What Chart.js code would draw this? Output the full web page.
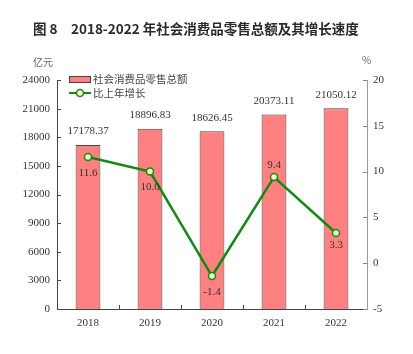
<!DOCTYPE html>
<html>
<head>
<meta charset="utf-8">
<script src="https://cdn.jsdelivr.net/npm/chart.js@4"></script>
<style>
  html, body { margin: 0; padding: 0; background: #fff; }
  #wrap { width: 413px; height: 354px; }
</style>
</head>
<body>
<div id="wrap"><canvas id="retailChart" width="413" height="354"></canvas></div>
<script>
"use strict";

const years = ["2018", "2019", "2020", "2021", "2022"];
const retailSales = [17178.37, 18896.83, 18626.45, 20373.11, 21050.12];
const growthRate = [11.6, 10.0, -1.4, 9.4, 3.3];
const salesTicks = [0, 3000, 6000, 9000, 12000, 15000, 18000, 21000, 24000];
const rateTicks = [-5, 0, 5, 10, 15, 20];

const figureNo = "图 8";
const titleText = "2018-2022 年社会消费品零售总额及其增长速度";
const salesLabel = "社会消费品零售总额";
const growthLabel = "比上年增长";

const serif = "'Liberation Serif', 'DejaVu Serif', serif";
const cjk = "'Noto Sans CJK SC', 'Noto Sans', sans-serif";

// title, units, legend, value labels and inward tick marks
const extrasPlugin = {
    id: "extras",
    afterDraw: (chart) => {
        const ctx = chart.ctx;
        const area = chart.chartArea;
        ctx.save();

        ctx.fillStyle = "#2a2a2a";
        ctx.font = "bold 13.5px " + cjk;
        ctx.textAlign = "left";
        ctx.textBaseline = "middle";
        ctx.fillText(figureNo, 33, 29);
        ctx.fillText(titleText, 71, 29);

        ctx.fillStyle = "#666";
        ctx.font = "10px " + cjk;
        ctx.fillText("亿元", 33, 62);
        ctx.fillText("%", 362, 60);

        // tick marks pointing into the plot
        ctx.lineWidth = 1;
        const left = chart.scales.y;
        ctx.strokeStyle = "#444";
        left.ticks.forEach((t) => {
            const y = Math.round(left.getPixelForValue(t.value)) + 0.5;
            ctx.beginPath();
            ctx.moveTo(area.left, y);
            ctx.lineTo(area.left + 4, y);
            ctx.stroke();
        });
        const right = chart.scales.y1;
        ctx.strokeStyle = "#888";
        right.ticks.forEach((t) => {
            const y = Math.round(right.getPixelForValue(t.value)) + 0.5;
            ctx.beginPath();
            ctx.moveTo(area.right - 4, y);
            ctx.lineTo(area.right, y);
            ctx.stroke();
        });
        const xs = chart.scales.x;
        ctx.strokeStyle = "#444";
        for (let i = 1; i < years.length; i++) {
            const x = Math.round((xs.getPixelForValue(i - 1) + xs.getPixelForValue(i)) / 2) + 0.5;
            ctx.beginPath();
            ctx.moveTo(x, area.bottom);
            ctx.lineTo(x, area.bottom - 4);
            ctx.stroke();
        }

        // value labels
        ctx.font = "11px " + serif;
        ctx.fillStyle = "#333";
        ctx.textAlign = "center";
        const bars = chart.getDatasetMeta(0).data;
        bars.forEach((bar, i) => {
            ctx.textBaseline = "bottom";
            ctx.fillText(retailSales[i].toFixed(2), bar.x, bar.y - 8);
        });
        const pts = chart.getDatasetMeta(1).data;
        pts.forEach((p, i) => {
            ctx.textBaseline = "middle";
            const above = i === 3;
            const dy = above ? -12 : (i === 4 ? 12 : 16);
            ctx.fillText(growthRate[i].toFixed(1), p.x, p.y + dy);
        });

        // legend
        const ds0 = chart.data.datasets[0];
        const ds1 = chart.data.datasets[1];
        ctx.fillStyle = ds0.backgroundColor;
        ctx.strokeStyle = ds0.borderColor;
        ctx.fillRect(69.5, 76.5, 21, 6);
        ctx.strokeRect(69.5, 76.5, 21, 6);
        ctx.strokeStyle = ds1.borderColor;
        ctx.lineWidth = 2;
        ctx.beginPath();
        ctx.moveTo(69, 93);
        ctx.lineTo(91, 93);
        ctx.stroke();
        ctx.fillStyle = ds1.pointBackgroundColor;
        ctx.lineWidth = 1.5;
        ctx.beginPath();
        ctx.arc(80, 93, 3.5, 0, Math.PI * 2);
        ctx.fill();
        ctx.stroke();
        ctx.fillStyle = "#444";
        ctx.font = "10.5px " + cjk;
        ctx.textAlign = "left";
        ctx.textBaseline = "middle";
        ctx.fillText(salesLabel, 93, 79.5);
        ctx.fillText(growthLabel, 93, 93.5);

        ctx.restore();
    }
};

const plainNumber = (v) => String(v);

const ctx = document.getElementById("retailChart");

new Chart(ctx, {
    type: "bar",
    data: {
        labels: years,
        datasets: [{
            label: salesLabel,
            data: retailSales,
            yAxisID: "y",
            backgroundColor: "#ff8080",
            borderColor: "#444",
            borderWidth: 1,
            barPercentage: 0.4,
            categoryPercentage: 1,
            order: 2
        }, {
            type: "line",
            label: growthLabel,
            data: growthRate,
            yAxisID: "y1",
            borderColor: "#108a10",
            borderWidth: 2.5,
            pointRadius: 3.5,
            pointBackgroundColor: "#f4ffc8",
            pointBorderColor: "#108a10",
            pointBorderWidth: 1.5,
            tension: 0,
            order: 1
        }]
    },
    options: {
        responsive: false,
        animation: false,
        devicePixelRatio: 1,
        layout: { padding: { top: 80, left: 0, right: 0, bottom: 0 } },
        plugins: {
            legend: { display: false },
            tooltip: { enabled: false }
        },
        scales: {
            x: {
                grid: { display: false, drawTicks: false },
                border: { color: "#444", width: 1 },
                ticks: { color: "#333", font: { family: serif, size: 11 }, padding: 8 },
                afterFit: (scale) => { scale.height = 45; }
            },
            y: {
                position: "left",
                min: 0,
                max: 24000,
                afterBuildTicks: (scale) => { scale.ticks = salesTicks.map((v) => ({ value: v })); },
                grid: { display: false, drawTicks: false },
                border: { color: "#444", width: 1 },
                ticks: { color: "#333", font: { family: serif, size: 11 }, padding: 7, callback: plainNumber },
                afterFit: (scale) => { scale.width = 57; }
            },
            y1: {
                position: "right",
                min: -5,
                max: 20,
                afterBuildTicks: (scale) => { scale.ticks = rateTicks.map((v) => ({ value: v })); },
                grid: { display: false, drawTicks: false },
                border: { color: "#999", width: 1 },
                ticks: { color: "#333", font: { family: serif, size: 11 }, padding: 6, callback: plainNumber },
                afterFit: (scale) => { scale.width = 46; }
            }
        }
    },
    plugins: [extrasPlugin]
});
</script>
</body>
</html>
